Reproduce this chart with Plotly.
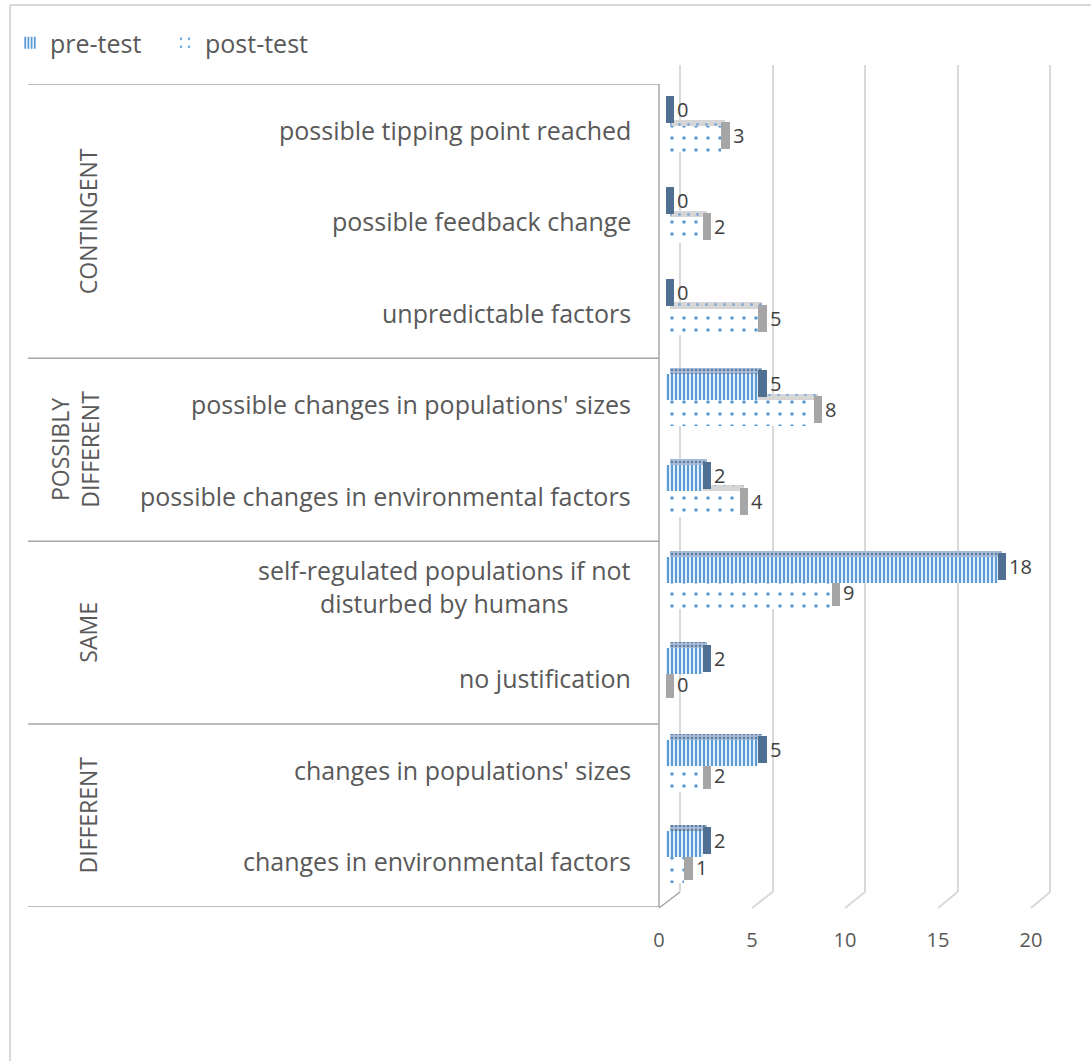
import plotly.graph_objects as go

W, H = 1091, 1061

# ---------------- data ----------------
categories = [
    "possible tipping point reached",
    "possible feedback change",
    "unpredictable factors",
    "possible changes in populations' sizes",
    "possible changes in environmental factors",
    "self-regulated populations if not<br>disturbed by humans",
    "no justification",
    "changes in populations' sizes",
    "changes in environmental factors",
]
pre_test = [0, 0, 0, 5, 2, 18, 2, 5, 2]
post_test = [3, 2, 5, 8, 4, 9, 0, 2, 1]
groups = ["CONTINGENT", "POSSIBLY<br>DIFFERENT", "SAME", "DIFFERENT"]
group_sizes = [3, 2, 2, 2]
x_ticks = [0, 5, 10, 15, 20]

FONT = "Open Sans"
TXT = "#595959"
GRID = "#d9d9d9"
LINE = "#a6a6a6"


def xp(px):
    return px / W


def yp(py):
    return 1 - py / H


fig = go.Figure()

# invisible helpers so the grid / tick-label subplots get drawn
fig.add_trace(go.Scatter(x=[10], y=[0.5], mode="markers", marker=dict(opacity=0),
                         xaxis="x", yaxis="y", showlegend=False, hoverinfo="skip"))
fig.add_trace(go.Scatter(x=[10], y=[categories[0]], mode="markers", marker=dict(opacity=0),
                         xaxis="x2", yaxis="y2", showlegend=False, hoverinfo="skip"))

# style of the pseudo-3D bars (category units on the y axis)
FRONT_W = 0.285
TOP_H = 0.066
SIDE_W = 0.45
TOP_BASE = 0.22
series = [
    ("post-test", post_test, -0.045,
     dict(color="white", pattern=dict(shape=".", fillmode="replace", fgcolor="#5b9bd5",
                                       bgcolor="white", size=12, solidity=0.07)),
     dict(color="#d6d6d6", pattern=dict(shape=".", fillmode="replace", fgcolor="#7fa9d6",
                                         bgcolor="#d6d6d6", size=9, solidity=0.08)),
     "#a6a6a6"),
    ("pre-test", pre_test, -0.33,
     dict(color="#deebf7", pattern=dict(shape="|", fillmode="replace", fgcolor="#5b9bd5",
                                         bgcolor="#e2eef9", size=4, solidity=0.5)),
     dict(color="#8ea8c6", pattern=dict(shape=".", fillmode="replace", fgcolor="#5a7ea6",
                                         bgcolor="#a9bdd6", size=4, solidity=0.3)),
     "#4f6f93"),
]

traces_by_name = {}
for name, vals, off, front_marker, top_marker, side_col in series:
    top = go.Bar(
        y=categories, x=[v if v > 0 else 0 for v in vals], base=TOP_BASE,
        orientation="h", offset=off - TOP_H, width=TOP_H,
        marker=dict(line=dict(width=0), **top_marker),
        xaxis="x3", yaxis="y2", showlegend=False, hoverinfo="skip",
    )
    side = go.Bar(
        y=categories, x=[SIDE_W] * len(vals), base=vals,
        orientation="h", offset=off - 0.04, width=FRONT_W + 0.01,
        marker=dict(color=side_col, line=dict(width=0)),
        text=[str(v) for v in vals], textposition="outside", constraintext="none",
        textfont=dict(family=FONT, size=20, color="#404040"), cliponaxis=False,
        xaxis="x3", yaxis="y2", showlegend=False, hoverinfo="skip",
    )
    front = go.Bar(
        y=categories, x=vals, name=name,
        orientation="h", offset=off, width=FRONT_W,
        marker=dict(line=dict(width=0), **front_marker),
        xaxis="x3", yaxis="y2", hoverinfo="x+y",
    )
    traces_by_name[name] = (top, side, front)

for name in ["post-test", "pre-test"]:
    for t in traces_by_name[name]:
        fig.add_trace(t)

# ---------------- shapes ----------------
shapes = []
shapes.append(dict(type="line", xref="paper", yref="paper", x0=xp(10), x1=xp(10), y0=yp(5), y1=0,
                   line=dict(color=GRID, width=2)))
shapes.append(dict(type="line", xref="paper", yref="paper", x0=xp(10), x1=1, y0=yp(5), y1=yp(5),
                   line=dict(color=GRID, width=2)))
bounds = [-0.5]
for s in group_sizes:
    bounds.append(bounds[-1] + s)
for b in bounds:
    shapes.append(dict(type="line", xref="paper", yref="y2", x0=xp(28), x1=xp(659), y0=b, y1=b,
                       line=dict(color=LINE, width=1.5)))
shapes.append(dict(type="line", xref="paper", yref="y2", x0=xp(659), x1=xp(659), y0=-0.5, y1=8.5,
                   line=dict(color=LINE, width=1.5)))
for v in x_ticks:
    bx = 680 + 18.5 * v
    fx = 659 + 18.6 * v
    shapes.append(dict(type="line", xref="paper", yref="paper", x0=xp(bx), x1=xp(fx),
                       y0=yp(892), y1=yp(908), line=dict(color=GRID if v else LINE, width=2 if v else 1.5)))
fig.update_layout(shapes=shapes)

# ---------------- annotations ----------------
ann = []
for c in categories:
    ann.append(dict(xref="paper", yref="y2", x=xp(633), y=c, text=c, showarrow=False,
                    xanchor="right", yanchor="middle", align="center",
                    font=dict(family=FONT, size=25, color=TXT)))
start = 0
for g, s in zip(groups, group_sizes):
    mid = start + (s - 1) / 2
    two = "<br>" in g
    ann.append(dict(xref="paper", yref="y2", x=xp(75 if two else 88), y=mid, text=g, showarrow=False,
                    textangle=-90, xanchor="center", yanchor="middle", align="center",
                    font=dict(family=FONT, size=23, color=TXT)))
    start += s
fig.update_layout(annotations=ann)

# ---------------- axes ----------------
PAD = 0.5  # half unit padding so edge grid lines are drawn
fig.update_layout(
    width=W, height=H,
    margin=dict(l=0, r=0, t=0, b=0),
    paper_bgcolor="white", plot_bgcolor="rgba(0,0,0,0)",
    template="none",
    barmode="overlay",
    bargap=0,
    xaxis=dict(domain=[xp(680 - PAD * 18.5), xp(1050 + PAD * 18.5)], range=[-PAD, 20 + PAD],
               tickvals=x_ticks, showgrid=True, gridcolor=GRID, gridwidth=2, zeroline=False,
               showticklabels=False, ticks="", showline=False, anchor="y", fixedrange=True),
    yaxis=dict(domain=[yp(892), yp(65)], range=[0, 1], showgrid=False, zeroline=False,
               showticklabels=False, ticks="", showline=False, anchor="x", fixedrange=True),
    xaxis2=dict(domain=[xp(659), xp(1031)], range=[0, 20], tickvals=x_ticks,
                showgrid=False, zeroline=False, showline=False,
                ticks="outside", ticklen=15, tickcolor="rgba(0,0,0,0)",
                tickfont=dict(family=FONT, size=20, color=TXT), anchor="y2", fixedrange=True),
    xaxis3=dict(domain=[xp(666), xp(1035)], range=[0, 20], showgrid=False, zeroline=False,
                showline=False, showticklabels=False, ticks="", anchor="y2", fixedrange=True),
    yaxis2=dict(domain=[yp(907), yp(84)], type="category", categoryorder="array",
                categoryarray=categories, range=[8.5, -0.5], showgrid=False, zeroline=False,
                showline=False, showticklabels=False, ticks="", anchor="x3", fixedrange=True),
    legend=dict(orientation="h", x=xp(10), y=yp(20), xanchor="left", yanchor="top",
                font=dict(family=FONT, size=25, color=TXT), bgcolor="rgba(0,0,0,0)",
                itemwidth=30, entrywidth=110, traceorder="reversed"),
    font=dict(family=FONT, color=TXT),
)

fig.write_html("out.html")
